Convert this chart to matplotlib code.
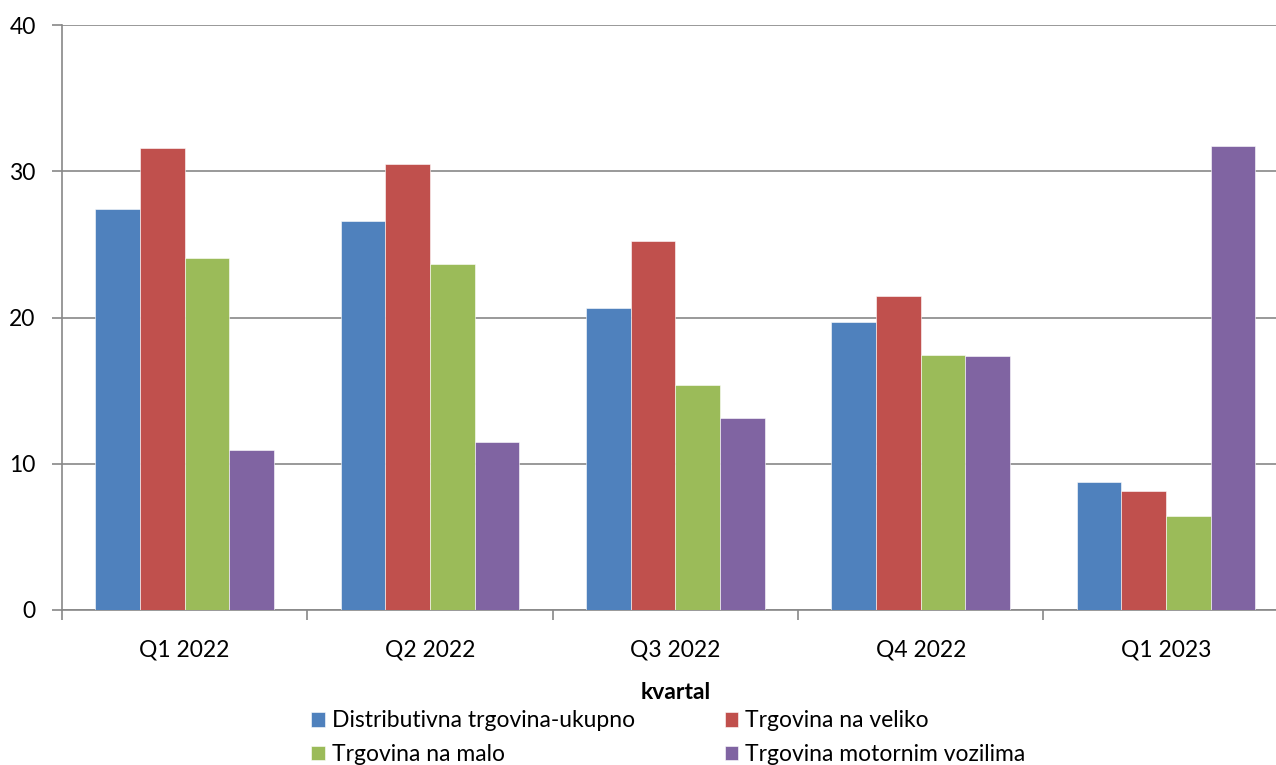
import numpy as np
import matplotlib.pyplot as plt

plt.rcParams['font.family'] = ['Lato', 'DejaVu Sans']

categories = ['Q1 2022', 'Q2 2022', 'Q3 2022', 'Q4 2022', 'Q1 2023']
series_names = ['Distributivna trgovina-ukupno', 'Trgovina na veliko',
                'Trgovina na malo', 'Trgovina motornim vozilima']
ukupno = [27.4, 26.6, 20.65, 19.7, 8.75]
veliko = [31.6, 30.5, 25.2, 21.5, 8.15]
malo = [24.05, 23.65, 15.4, 17.45, 6.45]
vozila = [10.95, 11.5, 13.15, 17.4, 31.75]
colors = ['#4F81BD', '#C0504D', '#9BBB59', '#8064A2']

fig = plt.figure(figsize=(12.76, 7.65), dpi=100)
ax = fig.add_axes([62 / 1276, 1 - 610 / 765, 1 - 62 / 1276 + 0.01, 585 / 765])

x = np.arange(len(categories))
w = 0.182
bars = []
for i, (vals, name) in enumerate(zip([ukupno, veliko, malo, vozila], series_names)):
    b = ax.bar(x + (i - 1.5) * w, vals, w, color=colors[i], label=name,
               edgecolor='white', linewidth=0.4, zorder=3)
    bars.append(b)

ax.set_xlim(-0.5, 4.5)
ax.set_ylim(0, 40)
ax.set_yticks([0, 10, 20, 30, 40])
ax.set_xticks(x)
ax.set_xticklabels(categories, fontsize=16.5)
ax.set_xticks(np.arange(-0.5, 4.6, 1), minor=True)
ax.tick_params(axis='x', which='major', length=0, pad=21)
ax.tick_params(axis='x', which='minor', length=7, color='#888888', width=1.2)
ax.tick_params(axis='y', length=7, color='#888888', width=1.2, labelsize=16.5, pad=12)
ax.grid(axis='y', color='#888888', linewidth=1.2, zorder=0)
for s in ['top', 'right']:
    ax.spines[s].set_visible(False)
for s in ['left', 'bottom']:
    ax.spines[s].set_color('#888888')
    ax.spines[s].set_linewidth(1.2)

ax.set_xlabel('kvartal', fontsize=16.5, fontweight='bold', labelpad=16)
# row-wise legend order
order = [0, 2, 1, 3]
fig.legend([bars[k] for k in order], [series_names[k] for k in order],
           loc='upper left', bbox_to_anchor=(300 / 1276, 1 - 699 / 765), ncol=2,
           frameon=False, fontsize=16.5, handlelength=0.6, handleheight=0.6,
           handletextpad=0.3, columnspacing=3.9, labelspacing=0.55,
           borderpad=0)

fig.savefig('out.png', dpi=100)
